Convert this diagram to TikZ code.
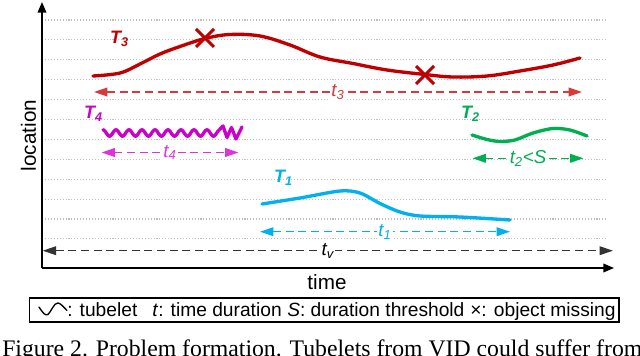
\documentclass[tikz,border=0pt]{standalone}
\usepackage{fontspec}
\setmainfont{Liberation Sans}
\newfontfamily\capfont{Liberation Serif}
\usetikzlibrary{arrows.meta,calc}
\definecolor{cRed}{HTML}{C00000}
\definecolor{cRedL}{HTML}{D63A3A}
\definecolor{cMag}{HTML}{CC00CC}
\definecolor{cMagL}{HTML}{DD33DD}
\definecolor{cGreen}{HTML}{00B050}
\definecolor{cCyan}{HTML}{00B0F0}
\definecolor{cGray}{HTML}{333333}
\definecolor{gridgray}{HTML}{BFBFBF}
\begin{document}
\begin{tikzpicture}[x=0.75pt,y=-0.75pt,
  gridline/.style={draw=gridgray, line width=0.8pt, dash pattern=on 0.8pt off 1.4pt},
  axis/.style={line width=1.1pt, -{Triangle[length=8pt,width=6.5pt]}},
  tube/.style={line width=2.5pt, line cap=round, line join=round},
  dur/.style={line width=1.1pt, dash pattern=on 6pt off 3.5pt,
    {Triangle[length=10pt,width=6.5pt]}-{Triangle[length=10pt,width=6.5pt]}},
  tlab/.style={fill=white, inner sep=1pt, font=\fontsize{14}{15}\selectfont\itshape},
  Tlab/.style={inner sep=0pt, font=\fontsize{13.5}{14}\selectfont\bfseries\itshape},
  xmark/.style={line width=2.3pt, draw=cRed},
  legtext/.style={anchor=base west, inner sep=0pt, font=\fontsize{14.4}{16}\selectfont},
]
\useasboundingbox (0,0) rectangle (640,356);
\clip (0,0) rectangle (640,356);
\fill[white] (0,0) rectangle (640,356);

% grid
\foreach \i in {0,...,11}
  \draw[gridline] (45,{20+19.9*\i}) -- (606,{20+19.9*\i});

% axes
\coordinate (O) at (42,268);
\coordinate (ytop) at (42,2);
\coordinate (xend) at (614,268);
\draw[axis] (O) -- (ytop);
\draw[axis] (O) -- (xend);
\node[anchor=base, inner sep=0pt, font=\fontsize{15.5}{17}\selectfont] (time) at (327,290) {time};
\node[rotate=90, inner sep=0pt, font=\fontsize{15.5}{17}\selectfont] (loc) at (28.5,135.5) {location};

% T3
\draw[tube, cRed] plot[smooth, tension=0.6] coordinates {(93,76) (120,73) (140,64) (160,54) (180,46.5) (205,38.5) (230,34.5) (260,36) (290,45) (320,57) (353,63.5) (387,70) (425,74.5) (453,77) (487,76) (520,71) (553,65) (580,58)};
\coordinate (x1) at (205,38);
\coordinate (x2) at (425,75);
\draw[xmark] ($(x1)+(-9,-9)$) -- ($(x1)+(9,9)$) ($(x1)+(-9,9)$) -- ($(x1)+(9,-9)$);
\draw[xmark] ($(x2)+(-9,-9)$) -- ($(x2)+(9,9)$) ($(x2)+(-9,9)$) -- ($(x2)+(9,-9)$);
\node[Tlab, text=cRed] (T3) at (119.5,39) {T\textsubscript{3}};
\coordinate (t3l) at (94,92);
\coordinate (t3r) at (582,92);
\draw[dur, cRedL] (t3l) -- node[tlab, text=cRedL] (t3) {t\textsubscript{3}} (t3r);

% T4
\draw[tube, cMag] plot[domain=103:219, samples=140, smooth] (\x,{133-3.2*cos(27.7*(\x-103))})
  -- (223,126) -- (227,137.5) -- (231.5,127.5) -- (236,139) -- (242,127);
\node[Tlab, text=cMag] (T4) at (93.5,113.5) {T\textsubscript{4}};
\coordinate (t4l) at (101.5,152.5);
\coordinate (t4r) at (238.5,152.5);
\draw[dur, cMagL] (t4l) -- node[tlab, text=cMagL] (t4) {t\textsubscript{4}} (t4r);

% T2
\draw[tube, cGreen] plot[smooth] coordinates {(472,135) (487,139.5) (500,141.5) (515,140) (533,133) (553,128.5) (570,130) (587,136)};
\node[Tlab, text=cGreen] (T2) at (470.5,113.5) {T\textsubscript{2}};
\coordinate (t2l) at (472.5,158.3);
\coordinate (t2r) at (583.5,158.3);
\draw[dur, cGreen] (t2l) -- node[tlab, text=cGreen] (t2) {t\textsubscript{2}<S} (t2r);

% T1
\draw[tube, cCyan] plot[smooth] coordinates {(262,204) (300,198) (340,191) (360,193) (380,203.5) (400,212) (420,216) (460,217) (510,220)};
\node[Tlab, text=cCyan] (T1) at (283.5,177.5) {T\textsubscript{1}};
\coordinate (t1l) at (260,231.7);
\coordinate (t1r) at (510,231.7);
\draw[dur, cCyan] (t1l) -- node[tlab, text=cCyan] (t1) {t\textsubscript{1}} (t1r);

% tv
\coordinate (tvl) at (42.7,250.7);
\coordinate (tvr) at (613,250.7);
\draw[dur, cGray] (tvl) -- node[tlab, text=black] (tv) {t\textsubscript{v}} (tvr);

% legend
\node[draw, line width=0.8pt, inner sep=0pt, minimum width=442.1pt, minimum height=18pt] (legend) at (324.25,310) {};
\draw[line width=1pt, line cap=round] (39,307) .. controls (43,313) and (45,316) .. (48,314.5) .. controls (51,312) and (54,302.5) .. (58,303) .. controls (61,303.5) and (64,307.5) .. (67,310.5);
\node[legtext] (l1) at (67,317) {: tubelet};
\node[legtext] (l2) at (152,317) {\textit{t}: time duration};
\node[legtext] (l3) at (287,317) {\textit{S}: duration threshold};
\node[legtext] (l4) at (470,317) {×: object missing};

% caption
\node[anchor=base west, inner sep=0pt, font=\capfont\fontsize{17.8}{20}\selectfont] (cap) at (2,356.5) {Figure 2. Problem formation. Tubelets from VID could suffer from};
\end{tikzpicture}
\end{document}
